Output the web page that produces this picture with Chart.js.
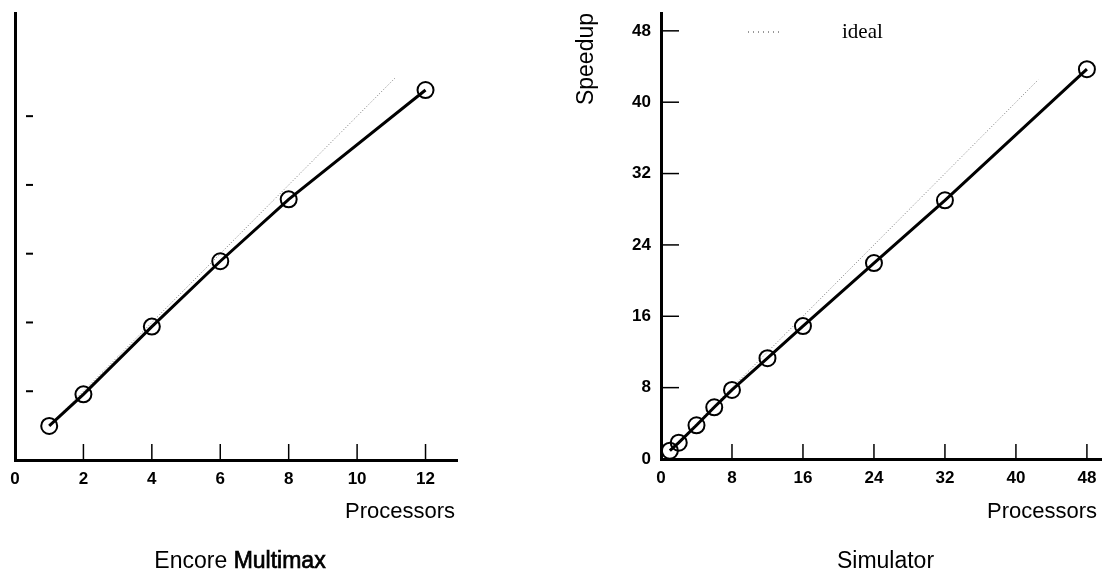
<!DOCTYPE html>
<html>
<head>
<meta charset="utf-8">
<script src="https://cdn.jsdelivr.net/npm/chart.js@4/dist/chart.umd.min.js"></script>
<style>
  body { margin: 0; background: #fff; width: 1102px; height: 571px; overflow: hidden; position: relative; }
  canvas { position: absolute; top: 0; }
  #leftChart { left: 0; }
  #rightChart { left: 560px; }
</style>
</head>
<body>
<canvas id="leftChart" width="470" height="571"></canvas>
<canvas id="rightChart" width="542" height="571"></canvas>
<script>
// Encore Multimax
const leftProcs = [1, 2, 4, 6, 8, 12];
const leftSpeedup = [0.99, 1.91, 3.88, 5.78, 7.58, 10.76];
const leftIdealX = [1, 11.1];
const leftXTicks = [0, 2, 4, 6, 8, 10, 12];
const leftYTicks = [2, 4, 6, 8, 10];

// Simulator
const rightProcs = [1, 2, 4, 6, 8, 12, 16, 24, 32, 48];
const rightSpeedup = [0.93, 1.83, 3.78, 5.8, 7.74, 11.3, 14.9, 21.97, 29.0, 43.7];
const rightIdealX = [1, 42.5];
const rightXTicks = [0, 8, 16, 24, 32, 40, 48];
const rightYTicks = [0, 8, 16, 24, 32, 40, 48];

Chart.defaults.font.family = "'Liberation Sans', Arial, sans-serif";
Chart.defaults.color = '#000';

// ticks drawn inward from the axes
const inwardTicks = {
    id: 'inwardTicks',
    afterDraw(chart, args, opts) {
        const ctx = chart.ctx;
        const { x, y } = chart.scales;
        ctx.save();
        ctx.strokeStyle = '#000';
        if (opts.x) {
            ctx.lineWidth = opts.x.width;
            x.ticks.forEach(t => {
                if (t.value === 0) return;
                const px = x.getPixelForValue(t.value);
                ctx.beginPath();
                ctx.moveTo(px, y.bottom);
                ctx.lineTo(px, y.bottom - opts.x.len);
                ctx.stroke();
            });
        }
        if (opts.y) {
            ctx.lineWidth = opts.y.width;
            y.ticks.forEach(t => {
                if (t.value === 0) return;
                const py = y.getPixelForValue(t.value);
                ctx.beginPath();
                ctx.moveTo(x.left + opts.y.gap, py);
                ctx.lineTo(x.left + opts.y.gap + opts.y.len, py);
                ctx.stroke();
            });
        }
        ctx.restore();
    }
};

// axis titles, caption and legend
const labels = {
    id: 'labels',
    afterDraw(chart, args, opts) {
        const ctx = chart.ctx;
        const area = chart.chartArea;
        ctx.save();
        ctx.fillStyle = '#000';
        ctx.strokeStyle = '#000';
        ctx.textBaseline = 'alphabetic';

        ctx.font = "22px 'Liberation Sans', Arial, sans-serif";
        ctx.textAlign = 'right';
        ctx.fillText('Processors', area.right - opts.xTitleInset, 518);

        // caption, some parts a bit heavier
        ctx.font = "23px 'Liberation Sans', Arial, sans-serif";
        const w = opts.caption.reduce((s, p) => s + ctx.measureText(p.text).width, 0);
        let cx = (area.left + area.right) / 2 + opts.captionShift - w / 2;
        ctx.textAlign = 'left';
        ctx.lineWidth = 0.7;
        opts.caption.forEach(p => {
            ctx.fillText(p.text, cx, 568);
            if (p.heavy) ctx.strokeText(p.text, cx, 568);
            cx += ctx.measureText(p.text).width;
        });

        if (opts.yTitle) {
            ctx.save();
            ctx.translate(opts.yTitle.x, opts.yTitle.y);
            ctx.rotate(-Math.PI / 2);
            ctx.font = "23px 'Liberation Sans', Arial, sans-serif";
            ctx.textAlign = 'right';
            ctx.textBaseline = 'middle';
            ctx.fillText(opts.yTitle.text, 0, 0);
            ctx.restore();
        }

        if (opts.legend) {
            const lg = opts.legend;
            ctx.strokeStyle = '#333';
            ctx.lineWidth = 1;
            ctx.setLineDash([1, 4]);
            ctx.beginPath();
            ctx.moveTo(lg.x, lg.y);
            ctx.lineTo(lg.x + 35, lg.y);
            ctx.stroke();
            ctx.setLineDash([]);
            ctx.font = "21px 'Liberation Serif', 'Times New Roman', serif";
            ctx.textAlign = 'left';
            ctx.fillText(lg.text, lg.x + 94, lg.y + 6);
        }
        ctx.restore();
    }
};

function pts(xs, ys) {
    return xs.map((v, i) => ({ x: v, y: ys[i] }));
}

function makeChart(id, cfg) {
    return new Chart(document.getElementById(id), {
        type: 'line',
        data: {
            datasets: [{
                label: 'measured',
                data: pts(cfg.procs, cfg.speedup),
                borderColor: '#000',
                borderWidth: 3,
                pointRadius: 8,
                pointBorderWidth: 2,
                pointBorderColor: '#000',
                pointBackgroundColor: 'rgba(255,255,255,0)',
                tension: 0
            }, {
                label: 'ideal',
                data: pts(cfg.idealX, cfg.idealX),
                borderColor: '#777',
                borderWidth: 1,
                borderDash: [1, 2],
                pointRadius: 0
            }]
        },
        options: {
            responsive: false,
            animation: false,
            layout: { autoPadding: false, padding: { left: 0, top: 13, right: cfg.padRight, bottom: 0 } },
            plugins: {
                legend: { display: false },
                tooltip: { enabled: false },
                inwardTicks: cfg.inTicks,
                labels: cfg.labels
            },
            scales: {
                x: {
                    type: 'linear',
                    min: 0,
                    max: cfg.xMax,
                    afterBuildTicks: s => { s.ticks = cfg.xTicks.map(v => ({ value: v })); },
                    afterFit: s => { s.height = cfg.xHeight; s.paddingLeft = 0; s.paddingRight = 0; },
                    grid: { display: false, drawTicks: false },
                    border: { color: '#000', width: 3 },
                    ticks: { padding: 9, font: { size: 17, weight: 'bold' } }
                },
                y: {
                    type: 'linear',
                    min: 0,
                    max: cfg.yMax,
                    afterBuildTicks: s => { s.ticks = cfg.yTicks.map(v => ({ value: v })); },
                    afterFit: s => { s.width = cfg.yWidth; s.paddingTop = 0; s.paddingBottom = 0; },
                    grid: { display: false, drawTicks: false },
                    border: { color: '#000', width: 3 },
                    ticks: { display: cfg.yLabels, padding: 10, font: { size: 17, weight: 'bold' } }
                }
            }
        },
        plugins: [inwardTicks, labels]
    });
}

makeChart('leftChart', {
    procs: leftProcs, speedup: leftSpeedup, idealX: leftIdealX,
    xTicks: leftXTicks, yTicks: leftYTicks,
    xMax: 12.92, yMax: 13, xHeight: 111, yWidth: 15, padRight: 13, yLabels: false,
    inTicks: { x: { len: 16, width: 1.5 }, y: { gap: 11, len: 7, width: 2 } },
    labels: {
        xTitleInset: 2, captionShift: 4,
        caption: [{ text: 'Encore ' }, { text: 'Multimax', heavy: true }]
    }
});

makeChart('rightChart', {
    procs: rightProcs, speedup: rightSpeedup, idealX: rightIdealX,
    xTicks: rightXTicks, yTicks: rightYTicks,
    xMax: 49.7, yMax: 50, xHeight: 112, yWidth: 101, padRight: 0, yLabels: true,
    inTicks: { x: { len: 15, width: 1.5 }, y: { gap: 0, len: 18, width: 1.5 } },
    labels: {
        xTitleInset: 5, captionShift: 4,
        caption: [{ text: 'Simulator' }],
        yTitle: { text: 'Speedup', x: 27, y: 13 },
        legend: { text: 'ideal', x: 188, y: 32 }
    }
});
</script>
</body>
</html>
